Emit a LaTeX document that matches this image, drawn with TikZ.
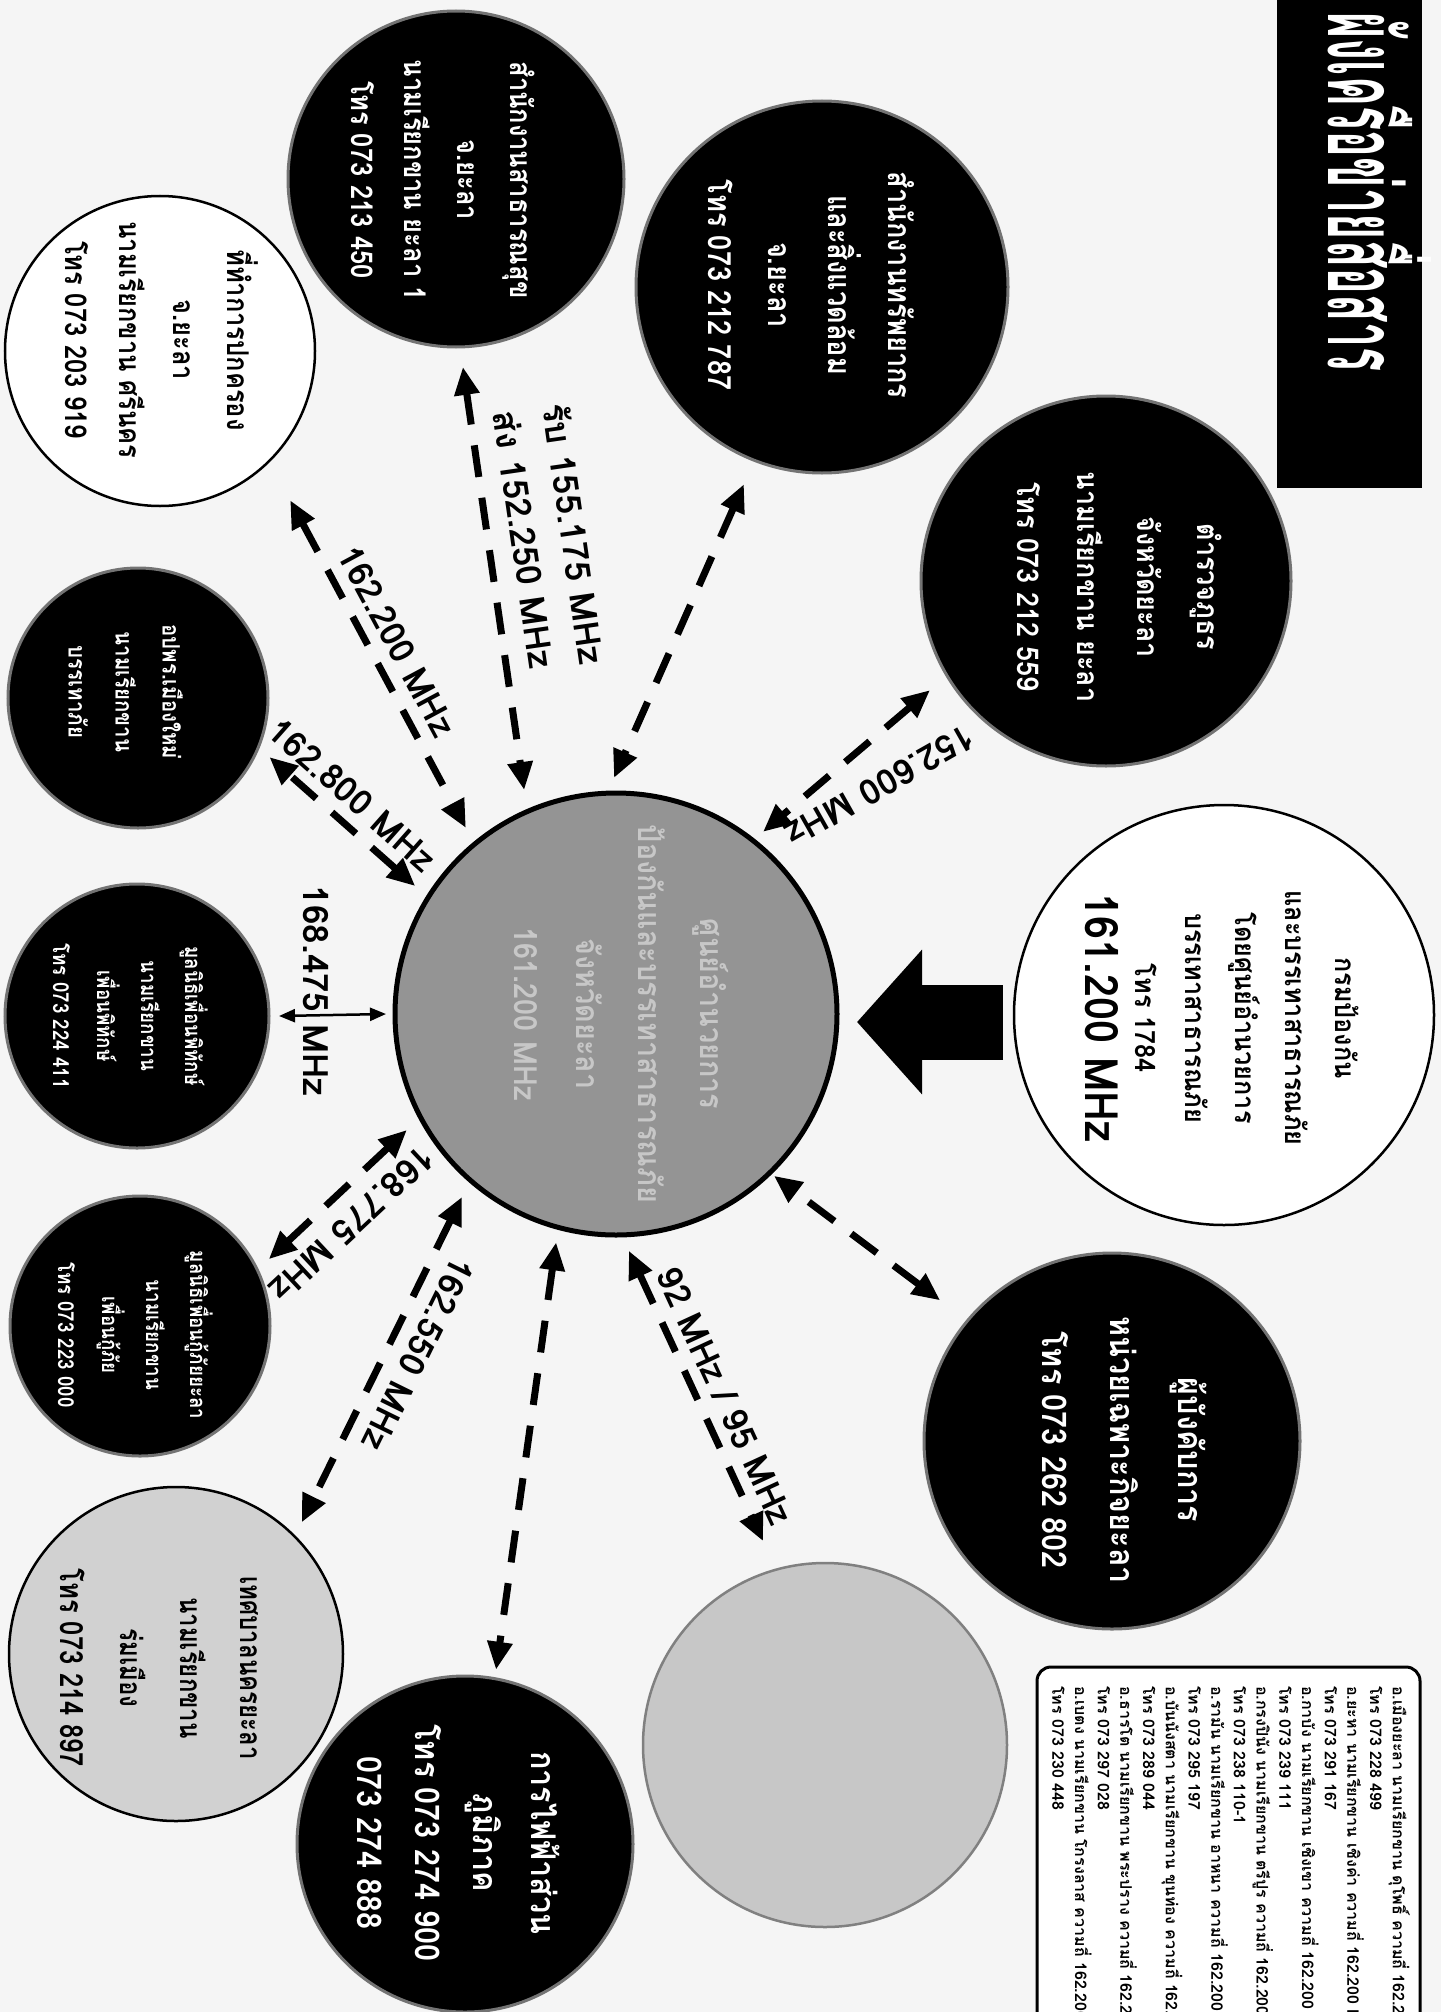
\documentclass[tikz,border=0pt]{standalone}
\usepackage{fontspec}
\setmainfont[Script=Thai]{Loma}
\usetikzlibrary{arrows.meta,calc}
\newcommand{\ctext}[4]{\scalebox{#1}[1]{\fontsize{#2}{#3}\selectfont\begin{tabular}{@{}c@{}}#4\end{tabular}}}
\begin{document}
\begin{tikzpicture}[x=1pt,y=-1pt,
  disc/.style={circle,inner sep=0pt,minimum size=#1},
  dk/.style={fill=black,draw=black!55,line width=3pt},
  wt/.style={fill=white,draw=black,line width=2.5pt},
  txt/.style={rotate=-90,inner sep=0pt,font=\bfseries},
  lbl/.style={inner sep=0pt,font=\bfseries\fontsize{35}{50}\selectfont},
  link/.style={line width=7pt,dash pattern=on 32pt off 21pt,
     arrows={Triangle[length=28pt,width=24pt]-Triangle[length=28pt,width=24pt]}},
  thinlink/.style={line width=2.5pt,
     arrows={Triangle[length=16pt,width=13pt]-Triangle[length=16pt,width=13pt]}}
]
\useasboundingbox (0,0) rectangle (1441,2012);
\clip (0,0) rectangle (1441,2012);
\fill[black!4] (0,0) rectangle (1441,2012);

% title
\node[fill=black,minimum width=145pt,minimum height=488pt,inner sep=0pt,anchor=north west] (title) at (1277,0) {};
\node[txt,text=white] (titletext) at (1362,192) {\ctext{0.45}{100}{120}{ผังเครือข่ายสื่อสาร}};

% circles
\node[disc=442pt,fill=black!42,draw=black,line width=5pt] (ctr) at (616,1014) {};
\node[disc=372pt,dk] (A) at (822,287) {};
\node[disc=336pt,dk] (B) at (456,179) {};
\node[disc=310pt,wt] (C) at (160,351) {};
\node[disc=260pt,dk] (D) at (138,698) {};
\node[disc=264pt,dk] (E) at (137,1016) {};
\node[disc=260pt,dk] (F) at (140,1326) {};
\node[disc=334pt,fill=black!18,draw=black,line width=2.5pt] (G) at (176,1654) {};
\node[disc=336pt,dk] (H) at (465,1844) {};
\node[disc=364pt,fill=black!22,draw=black!50,line width=2.5pt] (I) at (825,1745) {};
\node[disc=376pt,dk] (J) at (1112,1441) {};
\node[disc=420pt,wt] (K) at (1224,1015) {};
\node[disc=370pt,dk] (L) at (1106,581) {};

% circle texts
\node[txt,text=black!22] (ctrt) at (620,1014) {\ctext{0.9}{32}{62}{ศูนย์อำนวยการ\\ป้องกันและบรรเทาสาธารณภัย\\จังหวัดยะลา\\161.200 MHz}};
\node[txt,text=white] (At) at (810,285) {\ctext{0.85}{32}{60}{สำนักงานทรัพยากร\\และสิ่งแวดล้อม\\จ.ยะลา\\โทร 073 212 787}};
\node[txt,text=white] (Bt) at (442,180) {\ctext{0.85}{30}{53}{สำนักงานสาธารณสุข\\จ.ยะลา\\นามเรียกขาน ยะลา 1\\โทร 073 213 450}};
\node[txt] (Ct) at (157,340) {\ctext{0.85}{30}{54}{ที่ทำการปกครอง\\จ.ยะลา\\นามเรียกขาน ศรีนคร\\โทร 073 203 919}};
\node[txt,text=white] (Dt) at (125,692) {\ctext{0.85}{24}{47}{อปพร.เมืองใหม่\\นามเรียกขาน\\บรรเทาภัย}};
\node[txt,text=white] (Et) at (128,1016) {\ctext{0.85}{22}{44}{มูลนิธิเพื่อนพิทักษ์\\นามเรียกขาน\\เพื่อนพิทักษ์\\โทร 073 224 411}};
\node[txt,text=white] (Ft) at (133,1335) {\ctext{0.85}{22}{44}{มูลนิธิเพื่อนกู้ภัยยะลา\\นามเรียกขาน\\เพื่อนกู้ภัย\\โทร 073 223 000}};
\node[txt] (Gt) at (162,1668) {\ctext{0.8}{30}{60}{เทศบาลนครยะลา\\นามเรียกขาน\\ร่มเมือง\\{\fontsize{32}{64}\selectfont โทร 073 214 897}}};
\node[txt,text=white] (Ht) at (456,1843) {\ctext{0.9}{34}{58}{การไฟฟ้าส่วน\\ภูมิภาค\\โทร 073 274 900\\073 274 888}};
\node[txt,text=white] (Jt) at (1124,1450) {\ctext{0.9}{34}{68}{ผู้บังคับการ\\หน่วยเฉพาะกิจยะลา\\โทร 073 262 802}};
\node[txt] (Kt) at (1220,1018) {\ctext{0.9}{28}{50}{กรมป้องกัน\\และบรรเทาสาธารณภัย\\โดยศูนย์อำนวยการ\\บรรเทาสาธารณภัย\\โทร 1784\\{\fontsize{46}{60}\selectfont 161.200 MHz}}};
\node[txt,text=white] (Lt) at (1119,587) {\ctext{0.9}{30}{60}{ตำรวจภูธร\\จังหวัดยะลา\\นามเรียกขาน ยะลา\\โทร 073 212 559}};

% connectors
\draw[link] ($(C)+(48.9:198)$) -- ($(ctr)+(-128.9:239)$);
\draw[link] ($(B)+(87.9:188)$) -- ($(ctr)+(-112.3:242)$);
\draw[link] ($(A)+(111.6:212)$) -- ($(ctr)+(-90.5:236)$);
\draw[link] ($(L)+(148.2:207)$) -- ($(ctr)+(-51.1:234)$);
\draw[link] ($(J)+(-140.7:222)$) -- ($(ctr)+(45.7:226)$);
\draw[link] ($(ctr)+(86.9:237)$) -- ($(I)+(-106.9:213)$);
\draw[link] ($(ctr)+(104.7:236)$) -- ($(H)+(-79.9:177)$);
\draw[link] ($(ctr)+(130.1:239)$) -- ($(G)+(-46.3:182)$);
\draw[link] ($(ctr)+(151.0:239)$) -- ($(F)+(-27.4:145)$);
\draw[thinlink] ($(ctr)+(180:230)$) -- ($(E)+(0:142)$);
\draw[link] ($(ctr)+(-147.5:238)$) -- ($(D)+(24.2:144)$);
\draw[line width=75pt,-{Triangle[length=65pt,width=141pt]}] ($(K)+(-221,7)$) -- ($(ctr)+(241,8)$);

% connector labels
\node[lbl,rotate=-61.8] (f1) at (397,641) {162.200 MHz};
\node[lbl,rotate=-81.8,align=left] (f2) at (550,537) {รับ 155.175 MHz\\ส่ง 152.250 MHz};
\node[lbl,rotate=-150.5] (f3) at (880,786) {152.600 MHz};
\node[lbl,rotate=-65.2] (f4) at (725,1396) {92 MHz / 95 MHz};
\node[lbl,rotate=-116.2] (f5) at (418,1354) {162.550 MHz};
\node[lbl,rotate=-136.9] (f6) at (352,1224) {168.775 MHz};
\node[lbl,rotate=-90] (f7) at (316,991) {168.475 MHz};
\node[lbl,rotate=-41.5] (f8) at (352,795) {162.800 MHz};

% legend
\draw[line width=3pt,rounded corners=14pt,fill=white] (1037,1667) rectangle (1420,2060);
\node[rotate=-90,anchor=north west,inner sep=0pt,align=left,font=\bfseries\fontsize{16}{22.7}\selectfont] (leg) at (1410,1686) {%
อ.เมืองยะลา นามเรียกขาน ดุโพธิ์ ความถี่ 162.200 MHz\\
โทร 073 228 499\\
อ.ยะหา นามเรียกขาน เชิงค่า ความถี่ 162.200 MHz\\
โทร 073 291 167\\
อ.กาบัง นามเรียกขาน เชิงเขา ความถี่ 162.200 MHz\\
โทร 073 239 111\\
อ.กรงปินัง นามเรียกขาน ตรีปูร ความถี่ 162.200 MHz\\
โทร 073 238 110-1\\
อ.รามัน นามเรียกขาน อาหนา ความถี่ 162.200 MHz\\
โทร 073 295 197\\
อ.บันนังสตา นามเรียกขาน ขุนท่อง ความถี่ 162.200 MHz\\
โทร 073 289 044\\
อ.ธารโต นามเรียกขาน พระปราง ความถี่ 162.200 MHz\\
โทร 073 297 028\\
อ.เบตง นามเรียกขาน โกรงลาส ความถี่ 162.200 MHz\\
โทร 073 230 448};
\end{tikzpicture}
\end{document}
